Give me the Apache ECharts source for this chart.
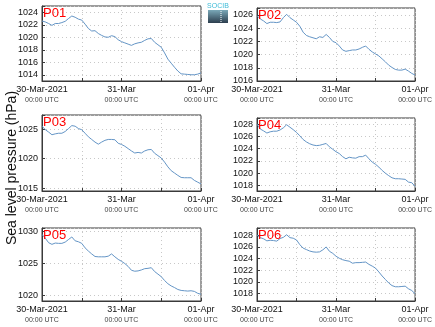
<!DOCTYPE html>
<html>
<head>
<meta charset="utf-8">
<script src="https://cdn.jsdelivr.net/npm/echarts@6/dist/echarts.min.js"></script>
<style>
html,body{margin:0;padding:0;background:#fff;}
#c{width:435px;height:327px;}
</style>
</head>
<body>
<div id="c"></div>
<script>
// hours since 30-Mar-2021 00:00 UTC
const hours = [0,1,2,3,4,5,6,7,8,9,10,11,12,13,14,15,16,17,18,19,20,21,22,23,24,25,26,27,28,29,30,31,32,33,34,35,36,37,38,39,40,41,42,43,44,45,46,47,48];
const xTickLabels = ['30-Mar-2021', '', '31-Mar', '', '01-Apr'];
const xTickSub = '00:00 UTC';
const panelNames = ['P01','P02','P03','P04','P05','P06'];

const p01 = [1022.6,1022.45,1022.2,1021.9,1022.2,1022.2,1022.35,1022.55,1023.0,1023.4,1023.2,1022.9,1022.75,1022.1,1021.4,1021.0,1021.05,1020.6,1020.3,1020.05,1020.0,1020.25,1020.1,1019.6,1019.3,1019.1,1018.9,1018.7,1018.95,1019.1,1019.2,1019.5,1019.75,1019.8,1019.2,1018.8,1018.4,1017.5,1016.5,1015.85,1015.2,1014.6,1014.15,1014.1,1014.05,1014.0,1014.0,1014.1,1014.3];
const p02 = [1025.9,1025.4,1025.1,1024.7,1024.9,1024.9,1024.85,1024.95,1025.6,1026.1,1025.6,1025.25,1024.9,1024.3,1023.4,1022.9,1022.7,1022.55,1022.4,1022.7,1022.6,1023.05,1022.6,1022.0,1021.8,1021.3,1020.7,1020.5,1020.6,1020.7,1020.7,1020.85,1021.1,1021.3,1020.8,1020.4,1020.1,1019.8,1019.35,1018.9,1018.4,1018.05,1017.75,1017.65,1017.65,1017.8,1017.5,1017.15,1016.9];
const p03 = [1025.5,1024.9,1024.5,1024.05,1024.2,1024.3,1024.3,1024.6,1025.1,1025.6,1025.5,1025.1,1024.9,1024.3,1023.7,1023.25,1022.8,1022.45,1022.8,1023.1,1023.25,1023.25,1023.2,1022.6,1022.4,1022.1,1021.7,1021.3,1020.95,1021.05,1020.95,1021.3,1021.5,1021.55,1020.9,1020.5,1020.1,1019.4,1018.6,1017.95,1017.55,1017.15,1016.8,1016.75,1016.75,1016.75,1016.3,1016.0,1015.7];
const p04 = [1028.0,1027.2,1026.9,1026.55,1026.75,1026.85,1026.85,1027.05,1027.4,1027.9,1027.5,1027.1,1026.65,1026.1,1025.5,1025.1,1024.8,1024.6,1024.5,1024.55,1024.7,1024.85,1024.3,1023.9,1023.5,1023.2,1022.7,1022.35,1022.6,1022.5,1022.45,1022.7,1022.7,1022.95,1022.35,1021.8,1021.45,1021.0,1020.45,1020.0,1019.6,1019.25,1019.1,1019.1,1019.05,1019.0,1018.55,1018.45,1017.85];
const p05 = [1029.5,1028.9,1028.2,1027.95,1028.15,1028.1,1028.1,1028.3,1028.7,1029.1,1028.5,1028.35,1028.1,1027.4,1026.9,1026.45,1026.05,1026.0,1026.0,1026.0,1026.1,1026.45,1026.0,1025.6,1025.3,1024.95,1024.5,1023.9,1023.75,1023.8,1023.95,1024.15,1024.2,1024.3,1023.7,1023.3,1022.9,1022.3,1021.8,1021.45,1021.2,1020.9,1020.75,1020.7,1020.65,1020.7,1020.6,1020.3,1020.15];
const p06 = [1028.05,1027.6,1027.4,1027.05,1027.15,1027.1,1027.0,1027.45,1027.65,1028.1,1027.6,1027.5,1027.2,1026.4,1025.8,1025.55,1025.3,1025.15,1025.1,1025.15,1025.5,1026.0,1025.25,1024.9,1024.4,1024.05,1023.8,1023.65,1023.55,1023.2,1023.3,1023.3,1023.35,1023.4,1023.0,1022.7,1022.35,1021.7,1021.0,1020.4,1019.8,1019.35,1019.15,1019.15,1019.2,1019.25,1018.8,1018.5,1017.95];

const yMin = [1013, 1016, 1014.5, 1017.1, 1019.1, 1016.7];
const yMax = [1025, 1027.06, 1027.4, 1029, 1030.5, 1029.26];
const yStep = [2, 2, 5, 2, 5, 2];

const series = [p01, p02, p03, p04, p05, p06];

const grids = [
  {left: 42, top: 6, width: 159, height: 75},
  {left: 257, top: 8, width: 159, height: 73},
  {left: 42, top: 115, width: 159, height: 76},
  {left: 257, top: 118, width: 159, height: 73},
  {left: 42, top: 228, width: 159, height: 73},
  {left: 257, top: 228, width: 159, height: 73}
];

const FONT = '"Liberation Sans", Arial, sans-serif';
const LINE = '#6495c6';
const FRAME = '#3a3a3a';

const option = {
  backgroundColor: '#ffffff',
  animation: false,
  grid: grids.map(g => Object.assign({show: true, borderColor: FRAME, borderWidth: 1, backgroundColor: 'transparent'}, g)),
  title: grids.map((g, i) => ({
    text: panelNames[i],
    left: g.left + 1,
    top: g.top + 1,
    padding: 0,
    textStyle: {color: '#ff0000', fontSize: 13, fontWeight: 'normal', fontFamily: FONT, backgroundColor: 'rgba(255,255,255,0.85)'}
  })),
  xAxis: grids.map((g, i) => ({
    type: 'value', gridIndex: i, min: 0, max: 48, interval: 12,
    axisLine: {show: true, lineStyle: {color: FRAME, width: 1}},
    axisTick: {show: true, inside: true, length: 3, lineStyle: {color: FRAME}},
    splitLine: {show: true, lineStyle: {color: '#c8c8c8', type: [1, 3], width: 1}},
    axisLabel: {
      margin: 3,
      fontFamily: FONT,
      formatter: function (v) {
        const lab = xTickLabels[Math.round(v / 12)];
        if (!lab) return '';
        return '{a|' + lab + '}\n{b|' + xTickSub + '}';
      },
      rich: {
        a: {fontSize: 9, color: '#111', fontFamily: FONT, lineHeight: 11, align: 'center'},
        b: {fontSize: 7, color: '#444', fontFamily: FONT, lineHeight: 10, align: 'center'}
      }
    }
  })),
  yAxis: grids.map((g, i) => ({
    type: 'value', gridIndex: i, min: yMin[i], max: yMax[i],
    minInterval: yStep[i], maxInterval: yStep[i], splitNumber: 5,
    axisLine: {show: true, lineStyle: {color: FRAME, width: 1}},
    axisTick: {show: true, inside: true, length: 3, lineStyle: {color: FRAME}},
    splitLine: {show: true, lineStyle: {color: '#c8c8c8', type: [1, 3], width: 1}},
    axisLabel: {
      margin: 4, fontSize: 9, color: '#111', fontFamily: FONT,
      formatter: function (v) {
        const r = v / yStep[i];
        return Math.abs(r - Math.round(r)) < 1e-6 ? String(Math.round(v)) : '';
      }
    }
  })),
  series: series.map((s, i) => ({
    type: 'line', xAxisIndex: i, yAxisIndex: i,
    data: hours.map((h, k) => [h, s[k]]),
    showSymbol: false, symbol: 'none',
    lineStyle: {color: LINE, width: 1},
    z: 2
  })),
  graphic: [
    {
      type: 'text', x: 12, y: 168, rotation: Math.PI / 2,
      style: {text: 'Sea level pressure (hPa)', fontSize: 14, fontFamily: FONT, fill: '#111', align: 'center', verticalAlign: 'middle'}
    },
    {
      type: 'text', x: 218, y: 6,
      style: {text: 'SOCIB', fontSize: 7, fontFamily: FONT, fill: '#40bcd8', align: 'center', verticalAlign: 'middle'}
    },
    {
      type: 'rect', shape: {x: 208, y: 10, width: 20, height: 13},
      style: {fill: {type: 'linear', x: 0, y: 0, x2: 0, y2: 1, colorStops: [{offset: 0, color: '#7aa8b8'}, {offset: 1, color: '#2c3e4e'}]}}
    },
    {
      type: 'line', shape: {x1: 221, y1: 11, x2: 221, y2: 22},
      style: {stroke: '#ffffff', lineWidth: 1, lineDash: [1, 1]}
    }
  ]
};

const chart = echarts.init(document.getElementById('c'), null, {renderer: 'canvas'});
chart.setOption(option);
</script>
</body>
</html>
